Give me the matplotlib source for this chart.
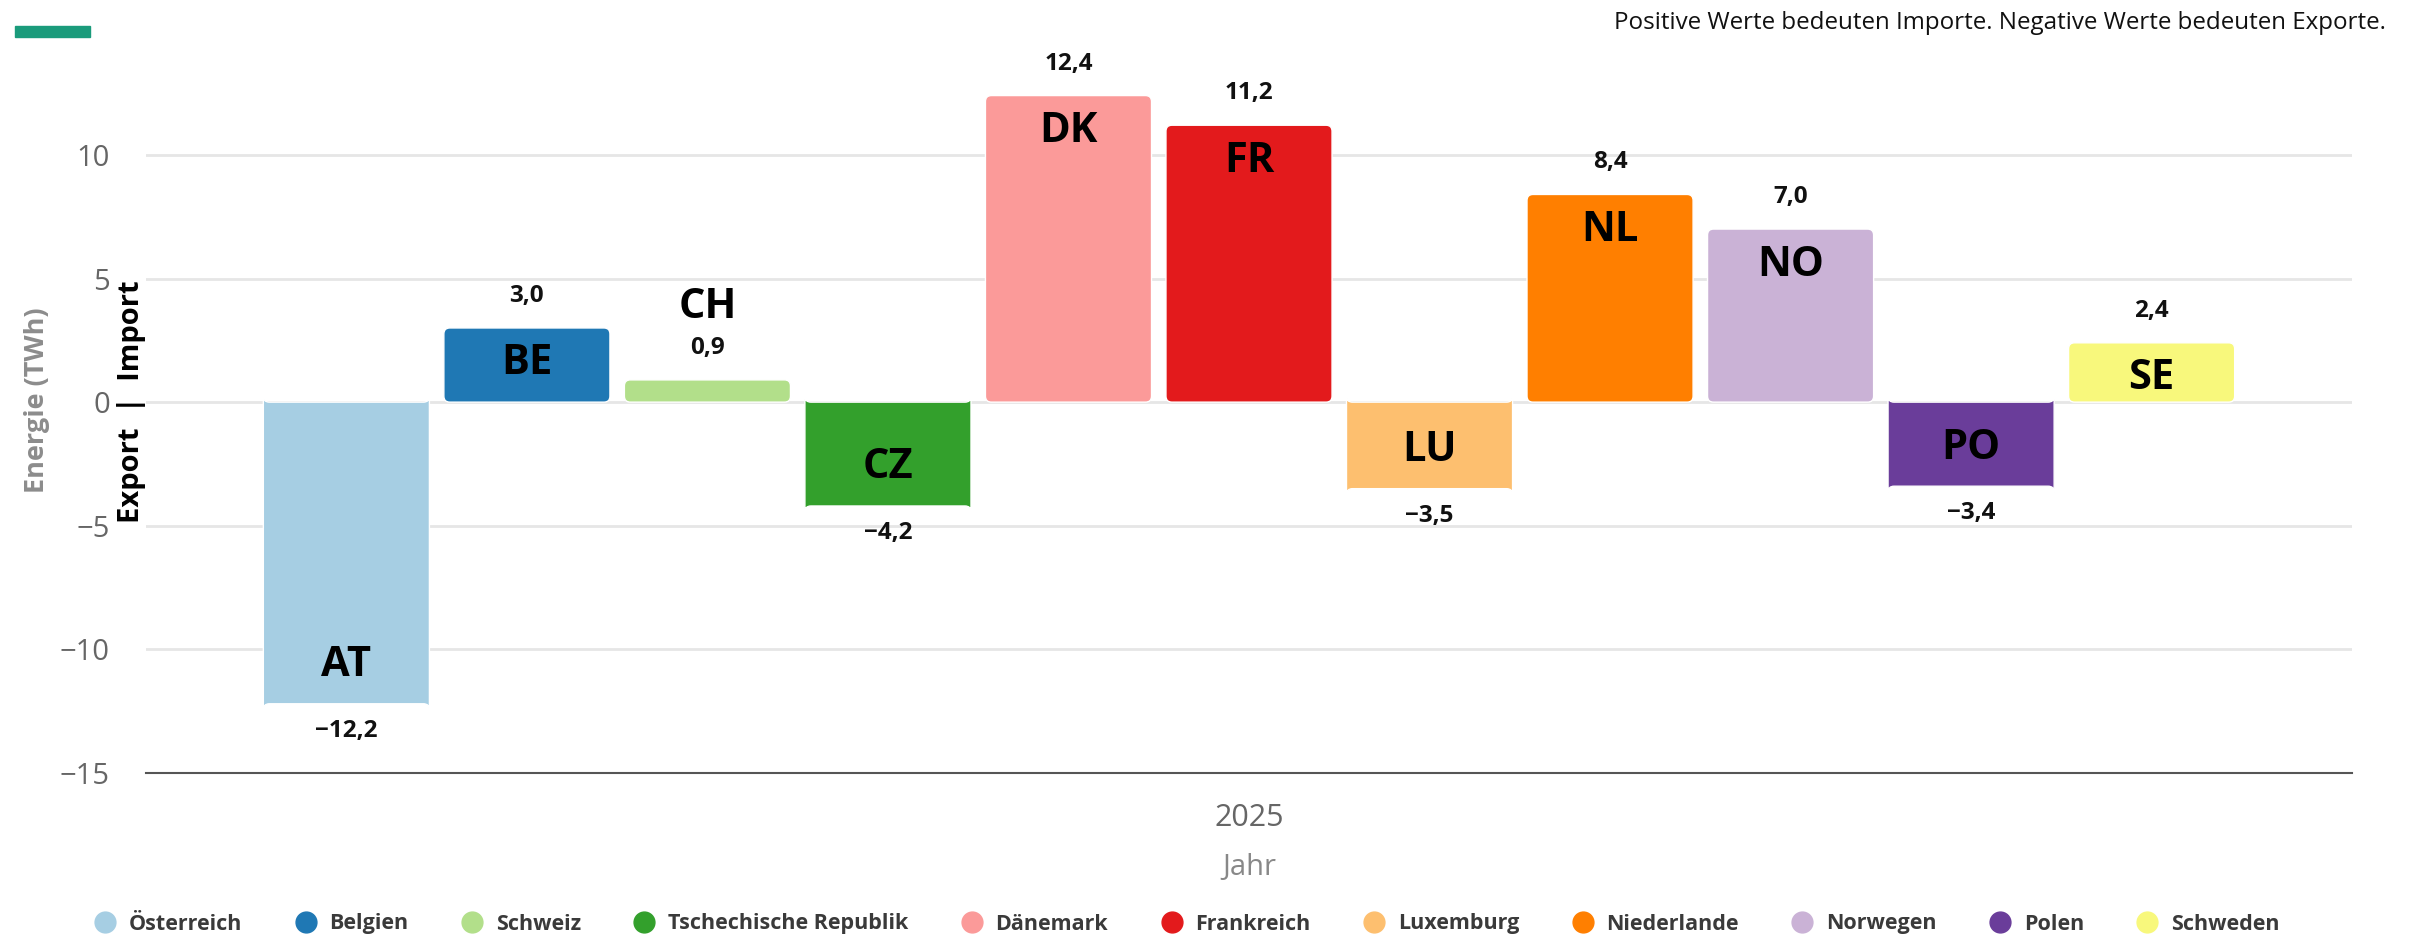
import matplotlib
matplotlib.use("Agg")
import matplotlib.pyplot as plt
from matplotlib.lines import Line2D
from matplotlib.patches import FancyBboxPatch
from matplotlib.transforms import blended_transform_factory

plt.rcParams['font.family'] = ['Open Sans', 'DejaVu Sans']

countries = ["Österreich", "Belgien", "Schweiz", "Tschechische Republik", "Dänemark",
             "Frankreich", "Luxemburg", "Niederlande", "Norwegen", "Polen", "Schweden"]
codes = ["AT", "BE", "CH", "CZ", "DK", "FR", "LU", "NL", "NO", "PO", "SE"]
values = [-12.2, 3.0, 0.9, -4.2, 12.4, 11.2, -3.5, 8.4, 7.0, -3.4, 2.4]
colors = ["#a6cee3", "#1f78b4", "#b2df8a", "#33a02c", "#fb9a99", "#e31a1c",
          "#fdbf6f", "#ff7f00", "#cab2d6", "#6a3d9a", "#f8f87c"]
yticks = [-15, -10, -5, 0, 5, 10]
category = "2025"

W, H = 2415, 936
fig = plt.figure(figsize=(W / 100, H / 100), dpi=100)
ax_top, ax_bot = 56, 773
ax = fig.add_axes([146 / W, 1 - ax_bot / H, (2352 - 146) / W, (ax_bot - ax_top) / H])

x = list(range(len(values)))
ax.set_xlim(-1.11, len(values) - 1 + 1.11)
ax.set_ylim(-15, 14)
bars = ax.bar(x, values, width=0.92, color=colors, zorder=3)

# replace bars with rounded-corner versions (same geometry)
fig.canvas.draw()
px_x = ax.transData.transform((1, 0))[0] - ax.transData.transform((0, 0))[0]
px_y = ax.transData.transform((0, 1))[1] - ax.transData.transform((0, 0))[1]
aspect = px_x / px_y
r_px = 6
for rect in list(bars):
    bx, by = rect.get_x(), rect.get_y()
    bw, bh = rect.get_width(), rect.get_height()
    fc = rect.get_facecolor()
    rect.remove()
    p = FancyBboxPatch((bx, by), bw, bh,
                       boxstyle=f"round,pad=0,rounding_size={r_px / px_x}",
                       mutation_aspect=aspect, facecolor=fc, edgecolor="white",
                       linewidth=1, zorder=3)
    ax.add_patch(p)

ax.set_yticks(yticks)
ax.set_yticklabels([("\u2212" + str(abs(t))) if t < 0 else str(t) for t in yticks],
                   fontsize=21, color="#666666")
ax.tick_params(axis="y", length=0, pad=26)
ax.set_xticks([])
for t in yticks:
    if t > -15:
        ax.axhline(t, color="#e6e6e6", lw=2, zorder=1)
for s in ["top", "right", "left"]:
    ax.spines[s].set_visible(False)
ax.spines["bottom"].set_color("#555555")
ax.spines["bottom"].set_linewidth(1.5)

def fmt(v):
    s = f"{abs(v):.1f}".replace(".", ",")
    return ("\u2212" + s) if v < 0 else s

vfs, cfs = 17.5, 30
for xi, v, c in zip(x, values, codes):
    if v >= 0:
        ax.annotate(fmt(v), (xi, v), xytext=(0, 32), textcoords="offset pixels",
                    ha="center", va="center", fontsize=vfs, fontweight="bold", color="#111111")
        if v < 2:
            ax.annotate(c, (xi, v), xytext=(0, 72), textcoords="offset pixels",
                        ha="center", va="center", fontsize=cfs, fontweight="bold", color="black")
        else:
            ax.annotate(c, (xi, v), xytext=(0, -36), textcoords="offset pixels",
                        ha="center", va="center", fontsize=cfs, fontweight="bold", color="black",
                        zorder=5)
    else:
        ax.annotate(fmt(v), (xi, v), xytext=(0, -27), textcoords="offset pixels",
                    ha="center", va="center", fontsize=vfs, fontweight="bold", color="#111111")
        ax.annotate(c, (xi, v), xytext=(0, 38), textcoords="offset pixels",
                    ha="center", va="center", fontsize=cfs, fontweight="bold", color="black",
                    zorder=5)

# x category and axis title
h_ax = ax_bot - ax_top
ax.text(0.5, -(818 - ax_bot) / h_ax, category, transform=ax.transAxes, ha="center",
        va="center", fontsize=22, color="#666666")
ax.text(0.5, -(867 - ax_bot) / h_ax, "Jahr", transform=ax.transAxes, ha="center",
        va="center", fontsize=21, color="#888888")

# y axis titles
fig.text(37 / W, 1 - 400 / H, "Energie (TWh)", rotation=90, ha="center", va="center",
         fontsize=19.5, color="#8c8c8c", fontweight="bold")
trans = blended_transform_factory(fig.transFigure, ax.transData)
ax.text(131 / W, 0, "Export  |  Import", transform=trans, rotation=90, ha="center",
        va="center", fontsize=21, fontweight="bold", color="black")

# top decorations
fig.patches.append(plt.Rectangle((15 / W, 1 - 37 / H), 75 / W, 11 / H,
                                 transform=fig.transFigure, color="#1a9b7b"))
fig.text(2386 / W, 1 - 23 / H, "Positive Werte bedeuten Importe. Negative Werte bedeuten Exporte.",
         ha="right", va="center", fontsize=17.4, color="#111111")

# legend
handles = [Line2D([], [], marker="o", ls="none", markersize=15, markerfacecolor=col,
                  markeredgecolor=col) for col in colors]
leg = fig.legend(handles, countries, loc="center", bbox_to_anchor=(0.4915, 1 - 924 / H),
                 ncol=len(countries), frameon=False, fontsize=15.5, handletextpad=0.6,
                 columnspacing=2.45, handlelength=1.0)
for t in leg.get_texts():
    t.set_color("#3a3a3a")
    t.set_fontweight("bold")

fig.savefig("out.png", dpi=100)
